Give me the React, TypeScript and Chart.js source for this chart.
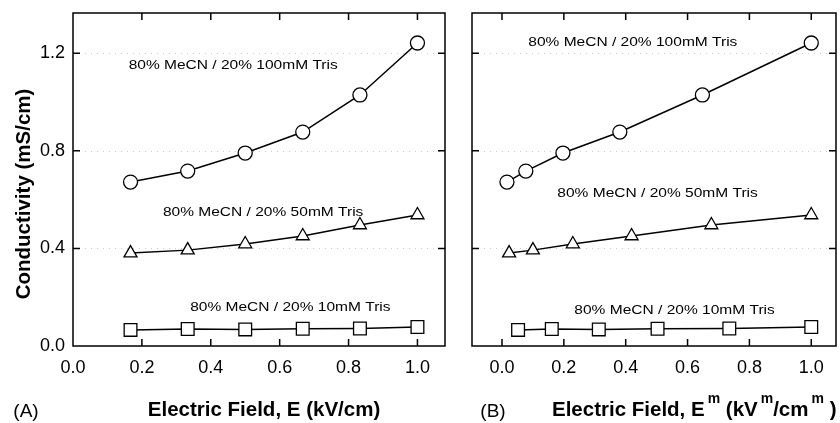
import React, { useEffect, useRef } from "react";
import { Chart, registerables } from "chart.js";

Chart.register(...registerables);

const FONT = "'Liberation Sans', Arial, Helvetica, sans-serif";

// ---------- data ----------
// Panel A: x = electric field E (kV/cm)
const fieldA = [0.167, 0.333, 0.5, 0.667, 0.833, 1.0];
// Conductivity (mS/cm)
const cond100 = [0.672, 0.717, 0.791, 0.877, 1.029, 1.242];
const cond50 = [0.381, 0.393, 0.418, 0.451, 0.496, 0.537];
const cond10 = [0.066, 0.07, 0.068, 0.071, 0.072, 0.078];
// Panel B: x = E^m for each buffer
const fieldB100 = [0.016, 0.077, 0.197, 0.381, 0.648, 1.0];
const fieldB50 = [0.023, 0.1, 0.229, 0.419, 0.677, 1.0];
const fieldB10 = [0.052, 0.161, 0.313, 0.503, 0.735, 1.0];

const xTickValues = [0, 0.2, 0.4, 0.6, 0.8, 1.0];
const yTickValues = [0, 0.4, 0.8, 1.2];
const seriesLabels = [
  "80% MeCN / 20% 100mM Tris",
  "80% MeCN / 20% 50mM Tris",
  "80% MeCN / 20% 10mM Tris",
];

// label anchors in data coordinates
const labelAnchorsA = [
  [0.465, 1.152],
  [0.552, 0.549],
  [0.631, 0.16],
];
const labelAnchorsB = [
  [0.423, 1.246],
  [0.503, 0.627],
  [0.558, 0.148],
];

const toPts = (xs: number[], ys: number[]) => xs.map((x, i) => ({ x, y: ys[i] }));

const ds = (data: any[], style: string, radius: number) => ({
  data,
  showLine: true,
  borderColor: "#000",
  borderWidth: 1.5,
  tension: 0,
  pointStyle: style,
  pointRadius: radius,
  pointHoverRadius: radius,
  pointBackgroundColor: "#fff",
  pointBorderColor: "#000",
  pointBorderWidth: 1.3,
  clip: false,
});

function framePlugin(panel: "A" | "B") {
  return {
    id: "frame" + panel,
    beforeDatasetsDraw(chart: any) {
      const ctx = chart.ctx;
      const { left, right } = chart.chartArea;
      const ys = chart.scales.y;
      ctx.save();
      ctx.strokeStyle = "rgba(0,0,0,0.2)";
      ctx.lineWidth = 1;
      ctx.setLineDash([1, 5]);
      for (const v of yTickValues) {
        if (v <= 0) continue;
        const py = Math.round(ys.getPixelForValue(v)) + 0.5;
        ctx.beginPath();
        ctx.moveTo(left, py);
        ctx.lineTo(right, py);
        ctx.stroke();
      }
      ctx.restore();
    },
    afterDraw(chart: any) {
      const ctx = chart.ctx;
      const { left, top, right, bottom } = chart.chartArea;
      const xs = chart.scales.x;
      const ys = chart.scales.y;
      ctx.save();
      ctx.strokeStyle = "#000";
      ctx.lineWidth = 1.5;
      ctx.setLineDash([]);
      ctx.strokeRect(left, top, right - left, bottom - top);
      const tl = 7;
      ctx.beginPath();
      for (const v of xTickValues) {
        const px = xs.getPixelForValue(v);
        if (px <= left + 2 || px >= right - 2) continue;
        ctx.moveTo(px, bottom);
        ctx.lineTo(px, bottom - tl);
        ctx.moveTo(px, top);
        ctx.lineTo(px, top + tl);
      }
      for (const v of yTickValues) {
        const py = ys.getPixelForValue(v);
        if (py <= top + 2 || py >= bottom - 2) continue;
        ctx.moveTo(left, py);
        ctx.lineTo(left + tl, py);
        ctx.moveTo(right, py);
        ctx.lineTo(right - tl, py);
      }
      ctx.stroke();

      // series annotations (slightly wide lettering as in the original print)
      ctx.fillStyle = "#000";
      ctx.font = `13.5px ${FONT}`;
      ctx.textAlign = "center";
      ctx.textBaseline = "middle";
      const anchors = panel === "A" ? labelAnchorsA : labelAnchorsB;
      anchors.forEach((a, i) => {
        const px = xs.getPixelForValue(a[0]);
        const py = ys.getPixelForValue(a[1]);
        ctx.save();
        ctx.translate(px, py);
        ctx.scale(1.15, 1);
        ctx.fillText(seriesLabels[i], 0, 0);
        ctx.restore();
      });

      // titles
      ctx.textBaseline = "alphabetic";
      const base = 416;
      if (panel === "A") {
        ctx.save();
        ctx.translate(30, 194);
        ctx.rotate(-Math.PI / 2);
        ctx.font = `bold 20.5px ${FONT}`;
        ctx.textAlign = "center";
        ctx.fillText("Conductivity (mS/cm)", 0, 0);
        ctx.restore();
        ctx.font = `19px ${FONT}`;
        ctx.textAlign = "center";
        ctx.fillText("(A)", 26, base + 1);
        ctx.font = `bold 20.5px ${FONT}`;
        ctx.fillText("Electric Field, E (kV/cm)", 264, base);
      } else {
        ctx.font = `19px ${FONT}`;
        ctx.textAlign = "center";
        ctx.fillText("(B)", 33, base + 1);
        ctx.textAlign = "left";
        const parts: [string, boolean][] = [
          ["Electric Field, E", false],
          ["m", true],
          [" (kV", false],
          ["m", true],
          ["/cm", false],
          ["m", true],
          [" )", false],
        ];
        let x = 92;
        for (const [t, sup] of parts) {
          if (sup) {
            ctx.font = `bold 14px ${FONT}`;
            x += 3;
            ctx.fillText(t, x, base - 13);
            x += ctx.measureText(t).width;
          } else {
            ctx.font = `bold 20.5px ${FONT}`;
            ctx.fillText(t, x, base);
            x += ctx.measureText(t).width;
          }
        }
      }
      ctx.restore();
    },
  };
}

function makeConfig(panel: "A" | "B"): any {
  const datasets =
    panel === "A"
      ? [
          ds(toPts(fieldA, cond100), "circle", 7),
          ds(toPts(fieldA, cond50), "triangle", 7.5),
          ds(toPts(fieldA, cond10), "rect", 9),
        ]
      : [
          ds(toPts(fieldB100, cond100), "circle", 7),
          ds(toPts(fieldB50, cond50), "triangle", 7.5),
          ds(toPts(fieldB10, cond10), "rect", 9),
        ];
  return {
    type: "scatter",
    data: { datasets },
    options: {
      responsive: false,
      animation: false,
      events: [],
      layout: {
        autoPadding: false,
        padding: panel === "A" ? { top: 13, right: 15, left: 0, bottom: 0 } : { top: 13, right: 4, left: 0, bottom: 0 },
      },
      plugins: { legend: { display: false }, tooltip: { enabled: false } },
      scales: {
        x: {
          type: "linear",
          min: panel === "A" ? 0 : -0.097,
          max: 1.08,
          afterBuildTicks: (s: any) => {
            s.ticks = xTickValues.map((v) => ({ value: v }));
          },
          afterFit: (s: any) => {
            s.height = 77;
            s.paddingLeft = 0;
            s.paddingRight = 0;
            s.paddingTop = 0;
            s.paddingBottom = 0;
          },
          grid: { display: false, drawTicks: false },
          border: { display: false },
          ticks: {
            color: "#000",
            font: { family: FONT, size: 18 },
            padding: 11,
            maxRotation: 0,
            autoSkip: false,
            callback: (v: any) => Number(v).toFixed(1),
          },
        },
        y: {
          type: "linear",
          min: 0,
          max: 1.365,
          afterBuildTicks: (s: any) => {
            s.ticks = yTickValues.map((v) => ({ value: v }));
          },
          afterFit: (s: any) => {
            s.width = panel === "A" ? 73 : 12;
            s.paddingLeft = 0;
            s.paddingRight = 0;
            s.paddingTop = 0;
            s.paddingBottom = 0;
          },
          grid: { display: false, drawTicks: false },
          border: { display: false },
          ticks: {
            display: panel === "A",
            color: "#000",
            font: { family: FONT, size: 18 },
            padding: 8,
            callback: (v: any) => Number(v).toFixed(1),
          },
        },
      },
    },
    plugins: [framePlugin(panel)],
  };
}

function Panel({ panel, left, width }: { panel: "A" | "B"; left: number; width: number }) {
  const ref = useRef<HTMLCanvasElement | null>(null);
  useEffect(() => {
    if (!ref.current) return;
    const chart = new Chart(ref.current, makeConfig(panel));
    return () => chart.destroy();
  }, [panel]);
  return (
    <canvas
      ref={ref}
      width={width}
      height={423}
      style={{ position: "absolute", left, top: 0, width, height: 423 }}
    />
  );
}

export default function App() {
  return (
    <div
      style={{
        position: "absolute",
        left: 0,
        top: 0,
        width: 840,
        height: 423,
        background: "#fff",
        overflow: "hidden",
      }}
    >
      <Panel panel="A" left={0} width={460} />
      <Panel panel="B" left={460} width={380} />
    </div>
  );
}
